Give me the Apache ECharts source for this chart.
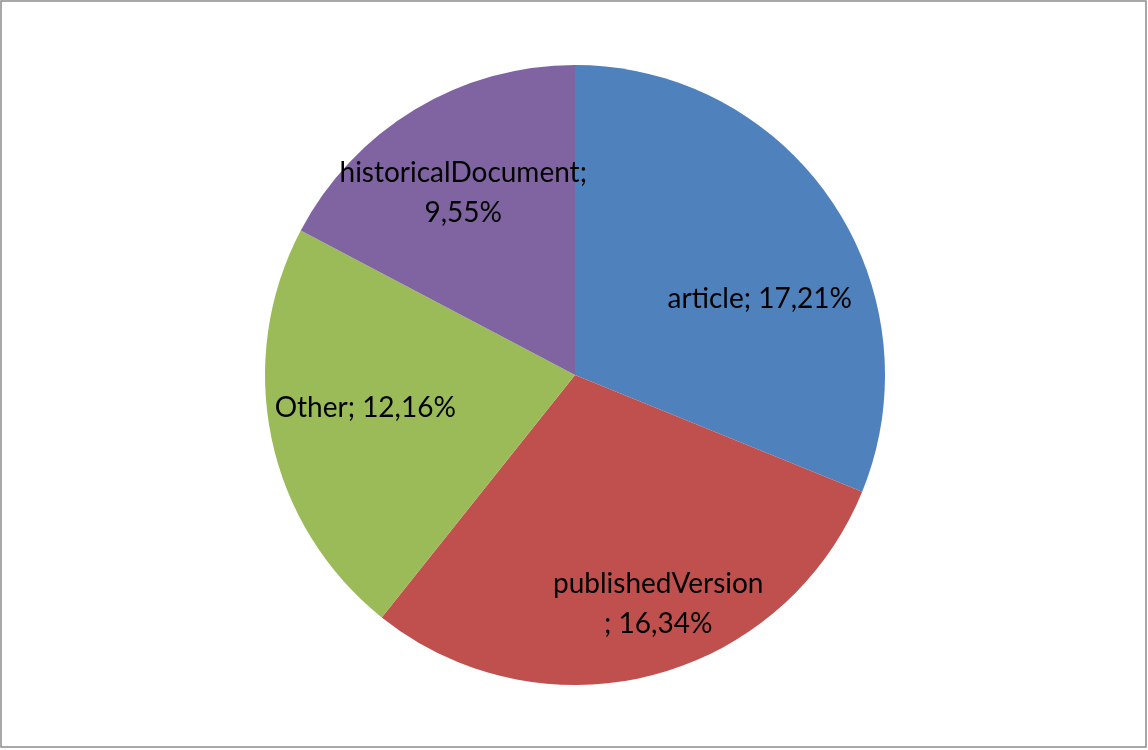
<!DOCTYPE html>
<html><head><meta charset="utf-8">
<script src="https://cdn.jsdelivr.net/npm/echarts@6/dist/echarts.min.js"></script>
<style>html,body{margin:0;padding:0;background:#fff}#c{width:1148px;height:750px}</style>
</head><body><div id="c"></div>
<script>
const categories = ['article', 'publishedVersion', 'Other', 'historicalDocument'];
const values = [17.21, 16.34, 12.16, 9.55];
const labelTexts = ['article; 17,21%', 'publishedVersion\n; 16,34%', 'Other; 12,16%', 'historicalDocument;\n9,55%'];
const colors = ['#4F81BD', '#C0504D', '#9BBB59', '#8064A2'];
// label placement within each slice: [angle (deg clockwise from top), radius fraction]
const labelPolar = [[67.5, 0.645], [160, 0.785], [261, 0.685], [328.5, 0.69]];

const cx = 575, cy = 375, R = 310;
const chart = echarts.init(document.getElementById('c'));
chart.setOption({
  animation: false,
  graphic: [{
    type: 'rect', shape: {x: 1, y: 1, width: 1145, height: 746},
    style: {fill: 'none', stroke: '#8c8c8c', lineWidth: 1.5}, z: -1
  }],
  series: [{
    type: 'pie',
    center: [cx, cy],
    radius: [0, R],
    startAngle: 90,
    clockwise: true,
    data: categories.map((c, i) => ({name: c, value: values[i], itemStyle: {color: colors[i]}})),
    itemStyle: {borderWidth: 0},
    label: {
      show: true, position: 'inside',
      formatter: p => labelTexts[p.dataIndex],
      fontFamily: 'Lato', fontSize: 28, lineHeight: 40, color: '#000', align: 'center'
    },
    labelLine: {show: false},
    emphasis: {disabled: true},
    labelLayout: function (p) {
      const lp = labelPolar[p.dataIndex];
      const a = lp[0] * Math.PI / 180;
      const r = lp[1] * R;
      return {x: cx + r * Math.sin(a), y: cy - r * Math.cos(a), align: 'center', verticalAlign: 'middle'};
    }
  }]
});
</script></body></html>
